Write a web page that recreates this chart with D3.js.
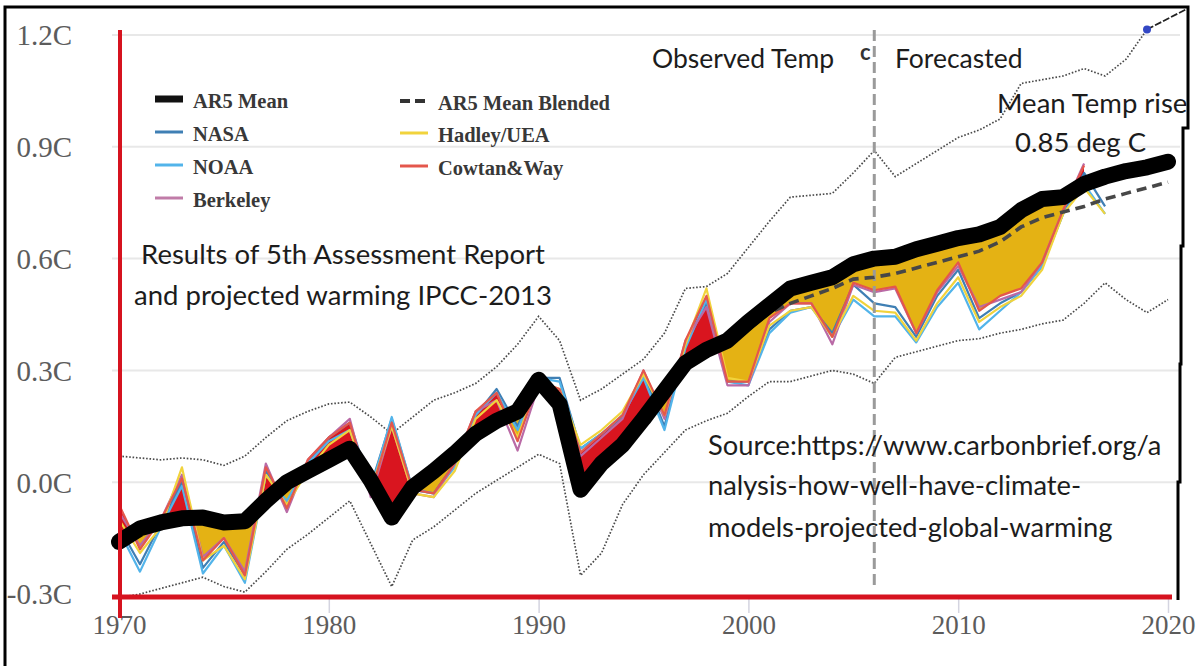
<!DOCTYPE html>
<html>
<head>
<meta charset="utf-8">
<script src="https://cdn.jsdelivr.net/npm/d3@7"></script>
<style>
  body { margin: 0; background: #fff; }
  svg { display: block; }
</style>
</head>
<body>
<svg id="chart" width="1198" height="666"></svg>
<script>
// ---- data (temperature anomaly, deg C) ----
const years = [1970,1971,1972,1973,1974,1975,1976,1977,1978,1979,
               1980,1981,1982,1983,1984,1985,1986,1987,1988,1989,
               1990,1991,1992,1993,1994,1995,1996,1997,1998,1999,
               2000,2001,2002,2003,2004,2005,2006,2007,2008,2009,
               2010,2011,2012,2013,2014,2015,2016,2017,2018,2019,2020];

const ar5Mean = [-0.16,-0.124,-0.108,-0.097,-0.095,-0.108,-0.105,-0.05,0.0,0.03,
                 0.06,0.09,0.005,-0.095,-0.013,0.03,0.077,0.13,0.165,0.19,
                 0.275,0.21,-0.02,0.05,0.10,0.17,0.245,0.32,0.355,0.38,
                 0.43,0.475,0.52,0.535,0.55,0.585,0.60,0.605,0.625,0.64,
                 0.655,0.665,0.685,0.73,0.76,0.765,0.80,0.82,0.835,0.845,0.86];

const ar5Blended = [-0.165,-0.13,-0.115,-0.105,-0.10,-0.115,-0.115,-0.06,-0.012,0.022,
                    0.05,0.08,-0.005,-0.10,-0.02,0.02,0.065,0.12,0.155,0.18,
                    0.26,0.20,-0.025,0.04,0.09,0.16,0.235,0.305,0.34,0.365,
                    0.41,0.455,0.48,0.50,0.52,0.545,0.55,0.56,0.575,0.59,
                    0.605,0.62,0.645,0.685,0.71,0.725,0.74,0.76,0.775,0.79,0.805];

const upperRange = [0.07,0.065,0.06,0.065,0.06,0.045,0.07,0.12,0.165,0.19,
                    0.21,0.215,0.175,0.13,0.175,0.22,0.24,0.265,0.31,0.37,
                    0.445,0.38,0.22,0.25,0.29,0.33,0.40,0.52,0.525,0.56,
                    0.63,0.70,0.765,0.77,0.775,0.83,0.89,0.82,0.855,0.89,
                    0.925,0.945,0.975,1.07,1.08,1.09,1.11,1.09,1.135,1.215,null];

const lowerRange = [-0.31,-0.30,-0.285,-0.27,-0.255,-0.28,-0.295,-0.24,-0.18,-0.14,
                    -0.095,-0.05,-0.165,-0.28,-0.155,-0.12,-0.075,-0.03,0.005,0.04,
                    0.075,0.05,-0.25,-0.19,-0.06,0.02,0.08,0.14,0.165,0.185,
                    0.23,0.27,0.27,0.285,0.30,0.29,0.265,0.335,0.35,0.365,
                    0.38,0.385,0.40,0.41,0.425,0.435,0.48,0.535,0.49,0.455,0.49];

// last projected point of the upper range and its continuation
const upperTailYears = [2019, 2020.9];
const upperTailValues = [1.215, 1.27];

const nasa = [-0.12,-0.22,-0.11,0.00,-0.23,-0.16,-0.25,0.03,-0.06,0.05,
              0.12,0.16,-0.01,0.17,-0.02,-0.03,0.05,0.18,0.25,0.15,
              0.28,0.28,0.09,0.13,0.175,0.29,0.15,0.37,0.48,0.27,
              0.27,0.41,0.46,0.47,0.40,0.53,0.48,0.47,0.39,0.50,
              0.57,0.44,0.48,0.51,0.58,0.72,0.83,0.74,null,null,null];

const noaa = [-0.13,-0.24,-0.12,-0.01,-0.245,-0.17,-0.27,0.02,-0.05,0.05,
              0.11,0.14,-0.02,0.175,-0.02,-0.03,0.04,0.18,0.24,0.14,
              0.28,0.27,0.09,0.13,0.18,0.28,0.14,0.36,0.49,0.27,
              0.26,0.40,0.455,0.47,0.39,0.49,0.445,0.445,0.375,0.47,
              0.535,0.41,0.46,0.51,0.58,0.72,0.80,0.72,null,null,null];

const berkeley = [-0.08,-0.17,-0.10,0.02,-0.20,-0.15,-0.24,0.05,-0.08,0.06,
                  0.12,0.17,-0.04,0.15,-0.03,-0.04,0.05,0.19,0.22,0.085,
                  0.26,0.24,0.07,0.12,0.17,0.30,0.17,0.38,0.47,0.26,
                  0.26,0.43,0.48,0.48,0.37,0.53,0.51,0.52,0.40,0.51,
                  0.58,0.47,0.49,0.51,0.59,0.73,0.855,null,null,null,null];

const hadley = [-0.10,-0.19,-0.12,0.04,-0.21,-0.17,-0.26,0.02,-0.06,0.03,
                0.10,0.14,-0.02,0.15,-0.03,-0.04,0.03,0.17,0.22,0.12,
                0.27,0.25,0.10,0.14,0.19,0.29,0.18,0.37,0.52,0.28,
                0.27,0.42,0.46,0.47,0.39,0.50,0.46,0.455,0.38,0.48,
                0.55,0.43,0.47,0.50,0.57,0.72,0.79,0.72,null,null,null];

const cowtanWay = [-0.06,-0.18,-0.10,0.01,-0.21,-0.15,-0.25,0.04,-0.07,0.06,
                   0.12,0.16,-0.03,0.16,-0.02,-0.03,0.05,0.19,0.24,0.11,
                   0.27,0.25,0.08,0.13,0.18,0.30,0.18,0.38,0.50,0.27,
                   0.27,0.44,0.48,0.48,0.39,0.535,0.515,0.525,0.40,0.515,
                   0.59,0.46,0.50,0.52,0.59,0.73,0.85,null,null,null,null];

const forecastStart = 2006;

const yTickValues = [-0.3, 0.0, 0.3, 0.6, 0.9, 1.2];
const yTickLabels = ["-0.3C", "0.0C", "0.3C", "0.6C", "0.9C", "1.2C"];
const xTickValues = [1970, 1980, 1990, 2000, 2010, 2020];
const xTickLabels = ["1970", "1980", "1990", "2000", "2010", "2020"];

const obsSeries = [
  { name: "NASA",       values: nasa,      color: "#3f7fb4" },
  { name: "NOAA",       values: noaa,      color: "#52b4ea" },
  { name: "Berkeley",   values: berkeley,  color: "#b96aa6" },
  { name: "Hadley/UEA", values: hadley,    color: "#f1d33c" },
  { name: "Cowtan&Way", values: cowtanWay, color: "#e4574c" }
];

// ---- scales ----
const x = d3.scaleLinear().domain([1970, 2020]).range([119, 1168]);
const y = d3.scaleLinear().domain([-0.3, 1.2]).range([594, 35]);

const svg = d3.select("#chart");

// ---- gridlines ----
svg.append("g").selectAll("line")
  .data(yTickValues.filter(v => v > -0.3))
  .join("line")
  .attr("x1", 112).attr("x2", 1180)
  .attr("y1", d => y(d)).attr("y2", d => y(d))
  .attr("stroke", "#e8e8e8").attr("stroke-width", 2);

// ---- axes (labels) ----
const yAxis = d3.axisLeft(y).tickValues(yTickValues)
  .tickFormat((d, i) => yTickLabels[i]).tickSize(0).tickPadding(0);
const gy = svg.append("g").attr("transform", "translate(72,0)").call(yAxis);
gy.select(".domain").remove();
gy.selectAll("text")
  .attr("font-family", "'Liberation Serif', 'DejaVu Serif', serif")
  .attr("font-size", 29).attr("fill", "#5c5c5c").attr("dy", "0.34em");

const xAxis = d3.axisBottom(x).tickValues(xTickValues)
  .tickFormat((d, i) => xTickLabels[i]).tickSize(14).tickPadding(6);
const gx = svg.append("g").attr("transform", "translate(0,599)").call(xAxis);
gx.select(".domain").remove();
gx.selectAll(".tick line").attr("stroke", "#d4d4e0").attr("stroke-width", 1.5);
gx.selectAll("text")
  .attr("font-family", "'Liberation Serif', 'DejaVu Serif', serif")
  .attr("font-size", 27).attr("fill", "#5c5c5c").attr("dy", "0.55em");

// ---- projection range (dotted envelope) ----
const rangeLine = d3.line()
  .defined(d => d.v != null)
  .x(d => x(d.year)).y(d => y(d.v));

[upperRange, lowerRange].forEach(arr => {
  svg.append("path")
    .datum(years.map((yr, i) => ({ year: yr, v: arr[i] })))
    .attr("d", rangeLine)
    .attr("fill", "none").attr("stroke", "#4a4a4a")
    .attr("stroke-width", 1.7).attr("stroke-dasharray", "1.6,1.8");
});

svg.append("path")
  .datum(upperTailYears.map((yr, i) => ({ year: yr, v: upperTailValues[i] })))
  .attr("d", rangeLine)
  .attr("fill", "none").attr("stroke", "#222")
  .attr("stroke-width", 1.8).attr("stroke-dasharray", "7,2");

svg.append("circle")
  .attr("cx", x(upperTailYears[0])).attr("cy", y(upperTailValues[0]))
  .attr("r", 4).attr("fill", "#3347c4");

// ---- fill between observations and the AR5 mean ----
const fillData = years.map((yr, i) => ({ year: yr, obs: cowtanWay[i], mean: ar5Mean[i] }))
  .filter(d => d.obs != null);

const defs = svg.append("defs");
defs.append("clipPath").attr("id", "aboveMean").append("path")
  .attr("d", d3.area().x(d => x(d.year)).y0(0).y1(d => y(d.mean))(fillData));
defs.append("clipPath").attr("id", "belowMean").append("path")
  .attr("d", d3.area().x(d => x(d.year)).y0(666).y1(d => y(d.mean))(fillData));

const gapArea = d3.area().x(d => x(d.year)).y0(d => y(d.mean)).y1(d => y(d.obs));
svg.append("path").datum(fillData).attr("d", gapArea)
  .attr("fill", "#e4b214").attr("clip-path", "url(#belowMean)");
svg.append("path").datum(fillData).attr("d", gapArea)
  .attr("fill", "#d9151f").attr("clip-path", "url(#aboveMean)");

// ---- observational series ----
const obsLine = d3.line()
  .defined(d => d.v != null)
  .x(d => x(d.year)).y(d => y(d.v));

obsSeries.forEach(s => {
  svg.append("path")
    .datum(years.map((yr, i) => ({ year: yr, v: s.values[i] })))
    .attr("d", obsLine)
    .attr("fill", "none").attr("stroke", s.color)
    .attr("stroke-width", 2.2).attr("stroke-linejoin", "round");
});

// ---- forecast divider ----
svg.append("line")
  .attr("x1", x(forecastStart)).attr("x2", x(forecastStart))
  .attr("y1", 30).attr("y2", 590)
  .attr("stroke", "#9a9a9a").attr("stroke-width", 3)
  .attr("stroke-dasharray", "11,5");

// ---- AR5 blended (dashed) and AR5 mean (thick) ----
svg.append("path")
  .datum(years.map((yr, i) => ({ year: yr, v: ar5Blended[i] })))
  .attr("d", obsLine)
  .attr("fill", "none").attr("stroke", "#474747")
  .attr("stroke-width", 3.6).attr("stroke-dasharray", "10,6");

svg.append("path")
  .datum(years.map((yr, i) => ({ year: yr, v: ar5Mean[i] })))
  .attr("d", obsLine)
  .attr("fill", "none").attr("stroke", "#000")
  .attr("stroke-width", 16).attr("stroke-linejoin", "round")
  .attr("stroke-linecap", "round");

// ---- red axis lines ----
svg.append("line")
  .attr("x1", x(1970) + 1).attr("x2", x(1970) + 1)
  .attr("y1", 30).attr("y2", 618)
  .attr("stroke", "#d6131f").attr("stroke-width", 4);
svg.append("line")
  .attr("x1", 112).attr("x2", 1172)
  .attr("y1", y(-0.3) + 3).attr("y2", y(-0.3) + 3)
  .attr("stroke", "#d6131f").attr("stroke-width", 5);

// ---- legend ----
const legendFont = "'Liberation Serif', 'Times New Roman', serif";
const legendLeft = [
  { label: "AR5 Mean", kind: "bar",  color: "#111",     yPos: 99 },
  { label: "NASA",     kind: "line", color: "#3f7fb4",  yPos: 132 },
  { label: "NOAA",     kind: "line", color: "#52b4ea",  yPos: 165 },
  { label: "Berkeley", kind: "line", color: "#c07ca8",  yPos: 198 }
];
const legendRight = [
  { label: "AR5 Mean Blended", kind: "dash", color: "#333",    yPos: 101 },
  { label: "Hadley/UEA",       kind: "line", color: "#f1d33c", yPos: 133 },
  { label: "Cowtan&Way",       kind: "line", color: "#e4574c", yPos: 166 }
];

function drawLegend(items, x0) {
  const g = svg.append("g");
  items.forEach(it => {
    if (it.kind === "bar") {
      g.append("rect").attr("x", x0).attr("y", it.yPos - 3.5)
        .attr("width", 28).attr("height", 7).attr("fill", it.color);
    } else if (it.kind === "dash") {
      g.append("line").attr("x1", x0).attr("x2", x0 + 28)
        .attr("y1", it.yPos).attr("y2", it.yPos)
        .attr("stroke", it.color).attr("stroke-width", 4)
        .attr("stroke-dasharray", "10,5");
    } else {
      g.append("line").attr("x1", x0).attr("x2", x0 + 28)
        .attr("y1", it.yPos).attr("y2", it.yPos)
        .attr("stroke", it.color).attr("stroke-width", 3);
    }
    g.append("text").attr("x", x0 + 38).attr("y", it.yPos + 9)
      .attr("font-family", legendFont).attr("font-weight", "bold")
      .attr("font-size", 20.5).attr("fill", "#383838")
      .text(it.label);
  });
}
drawLegend(legendLeft, 155);
drawLegend(legendRight, 400);

// ---- annotations ----
const noteFont = "Lato, 'Open Sans', sans-serif";
function note(txt, x0, y0, size, anchor) {
  svg.append("text").attr("x", x0).attr("y", y0)
    .attr("font-family", noteFont).attr("font-size", size)
    .attr("fill", "#1c1c1c").attr("text-anchor", anchor || "start")
    .text(txt);
}
note("Observed Temp", 652, 68, 26.5);
svg.append("text").attr("x", 860).attr("y", 60)
  .attr("font-family", noteFont).attr("font-size", 22).attr("font-weight", "bold")
  .attr("fill", "#333").text("c");
note("Forecasted", 895, 68, 26.5);
note("Mean Temp rise", 997, 113, 27.5);
note("0.85 deg C", 1015, 152, 27.5);
note("Results of 5th Assessment Report", 343, 264, 27.5, "middle");
note("and projected warming IPCC-2013", 343, 305, 27.5, "middle");
note("Source:https://www.carbonbrief.org/a", 708, 455, 27.3);
note("nalysis-how-well-have-climate-", 708, 495, 27.3);
note("models-projected-global-warming", 708, 537, 27.3);

// ---- outer frame ----
svg.append("path")
  .attr("d", "M5,666 L5,7 L1188,7 L1188,128 L1183,128 L1183,246 L1181,246 L1181,364 L1180,364 L1180,482 L1178,482 L1178,600")
  .attr("fill", "none").attr("stroke", "#000").attr("stroke-width", 3);
</script>
</body>
</html>
